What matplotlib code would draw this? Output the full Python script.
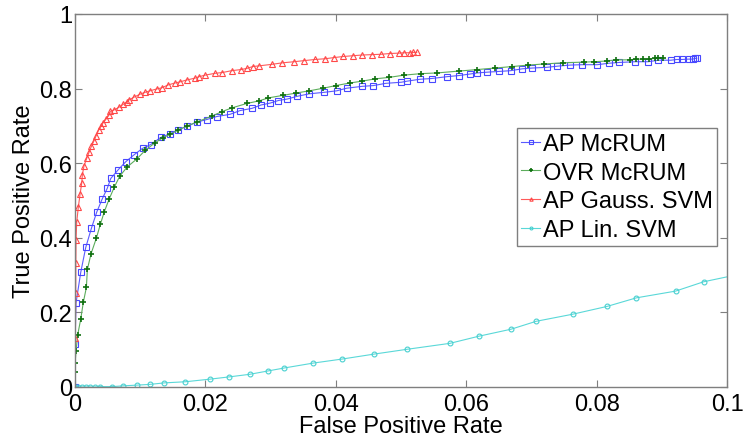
import numpy as np
import matplotlib
matplotlib.use("Agg")
import matplotlib.pyplot as plt

plt.rcParams['font.family'] = ['Liberation Sans', 'DejaVu Sans']

# ROC points (false positive rate, true positive rate)
fpr_ap_mcrum = [0.0, 0.0, 0.00015, 0.00087, 0.00164, 0.0025, 0.00333, 0.00414, 0.00495,
                0.00548, 0.0066, 0.00778, 0.00909, 0.01038, 0.01161, 0.01314, 0.01457,
                0.01584, 0.01722, 0.01866, 0.0202, 0.02173, 0.02377, 0.02531, 0.02715,
                0.02853, 0.02991, 0.03118, 0.03256, 0.034, 0.03594, 0.03824, 0.04014,
                0.04167, 0.04406, 0.04575, 0.04765, 0.05005, 0.05097, 0.05291, 0.05471,
                0.0571, 0.0589, 0.06058, 0.0617, 0.06324, 0.06508, 0.06683, 0.0686,
                0.07009, 0.07235, 0.07397, 0.07592, 0.07781, 0.08011, 0.0819, 0.08348,
                0.08589, 0.08793, 0.08946, 0.09137, 0.09229, 0.0931, 0.09413, 0.09474,
                0.09514, 0.09535]
tpr_ap_mcrum = [0.0, 0.115, 0.225, 0.307, 0.374, 0.425, 0.469, 0.503, 0.533,
                0.559, 0.582, 0.604, 0.623, 0.640, 0.650, 0.669, 0.679,
                0.690, 0.699, 0.710, 0.717, 0.725, 0.731, 0.741, 0.747,
                0.756, 0.761, 0.768, 0.772, 0.779, 0.786, 0.790, 0.794,
                0.801, 0.806, 0.808, 0.814, 0.817, 0.820, 0.825, 0.827,
                0.832, 0.835, 0.839, 0.842, 0.844, 0.846, 0.848, 0.853,
                0.855, 0.857, 0.860, 0.863, 0.864, 0.864, 0.868, 0.870,
                0.872, 0.872, 0.876, 0.876, 0.878, 0.878, 0.879, 0.879,
                0.881, 0.881]

fpr_ovr_mcrum = [0.0, 0.0, 0.0, 0.00015, 0.0004, 0.00087, 0.00127, 0.00174, 0.00189,
                 0.00245, 0.00327, 0.00388, 0.00449, 0.00521, 0.00603, 0.00685, 0.008,
                 0.00946, 0.01074, 0.01222, 0.01345, 0.01457, 0.01584, 0.01722, 0.01876,
                 0.02097, 0.0225, 0.02403, 0.02633, 0.02822, 0.02965, 0.03195, 0.0339,
                 0.03594, 0.03808, 0.03998, 0.04218, 0.04406, 0.04601, 0.04816, 0.05046,
                 0.05302, 0.05557, 0.05894, 0.0617, 0.06437, 0.06702, 0.06952, 0.07193,
                 0.0748, 0.07807, 0.07965, 0.08155, 0.08298, 0.08508, 0.086, 0.08707,
                 0.08808, 0.08896, 0.08946, 0.09014]
tpr_ovr_mcrum = [0.0, 0.039, 0.063, 0.096, 0.139, 0.182, 0.227, 0.267, 0.315,
                 0.357, 0.399, 0.436, 0.470, 0.503, 0.536, 0.565, 0.590,
                 0.611, 0.634, 0.654, 0.668, 0.677, 0.689, 0.700, 0.711,
                 0.726, 0.738, 0.748, 0.760, 0.767, 0.775, 0.782, 0.788,
                 0.794, 0.801, 0.808, 0.815, 0.820, 0.826, 0.830, 0.836,
                 0.840, 0.842, 0.847, 0.851, 0.855, 0.859, 0.863, 0.866,
                 0.869, 0.871, 0.872, 0.874, 0.877, 0.877, 0.879, 0.879,
                 0.879, 0.881, 0.881, 0.882]

fpr_gauss_svm = [0.0, 0.00005, 0.0001, 0.00012, 0.00015, 0.00026, 0.00051, 0.00077, 0.00103,
                 0.00112, 0.00138, 0.00179, 0.00215, 0.0025, 0.00291, 0.00322, 0.00363,
                 0.00399, 0.00434, 0.00475, 0.00521, 0.00541, 0.00603, 0.00675, 0.00741,
                 0.00793, 0.00833, 0.00905, 0.00997, 0.01074, 0.0115, 0.01253, 0.0133,
                 0.01431, 0.01534, 0.0161, 0.01713, 0.0184, 0.01906, 0.01994, 0.0215,
                 0.02259, 0.02403, 0.02546, 0.02633, 0.02725, 0.02827, 0.03021, 0.03179,
                 0.03359, 0.03517, 0.03681, 0.03839, 0.03968, 0.04115, 0.04259, 0.04406,
                 0.04555, 0.04698, 0.04831, 0.04965, 0.05046, 0.05138, 0.05189, 0.05241]
tpr_gauss_svm = [0.0, 0.131, 0.252, 0.333, 0.394, 0.443, 0.483, 0.517, 0.547,
                 0.569, 0.593, 0.613, 0.629, 0.645, 0.660, 0.673, 0.689,
                 0.699, 0.709, 0.718, 0.729, 0.739, 0.743, 0.750, 0.758,
                 0.764, 0.770, 0.777, 0.785, 0.790, 0.794, 0.799, 0.802,
                 0.810, 0.815, 0.818, 0.823, 0.828, 0.832, 0.836, 0.841,
                 0.843, 0.848, 0.851, 0.854, 0.859, 0.861, 0.865, 0.869,
                 0.872, 0.875, 0.878, 0.880, 0.883, 0.886, 0.888, 0.890,
                 0.891, 0.892, 0.894, 0.895, 0.896, 0.896, 0.897, 0.897]

fpr_lin_svm = [0.0, 0.0005, 0.001, 0.0017, 0.0023, 0.003, 0.0039, 0.0057, 0.0073,
               0.0095, 0.0115, 0.0137, 0.0169, 0.0207, 0.0236, 0.0268, 0.0296,
               0.0321, 0.0365, 0.041, 0.0458, 0.0509, 0.0575, 0.0619, 0.0669,
               0.0707, 0.0763, 0.0816, 0.0861, 0.0921, 0.0964, 0.104]
tpr_lin_svm = [0.0, 0.0, 0.0, 0.0, 0.0, 0.0, 0.001, 0.001, 0.003,
               0.005, 0.007, 0.011, 0.014, 0.021, 0.027, 0.034, 0.043,
               0.051, 0.064, 0.075, 0.088, 0.101, 0.117, 0.136, 0.155,
               0.176, 0.195, 0.216, 0.239, 0.257, 0.282, 0.310]

x_ticks = [0, 0.02, 0.04, 0.06, 0.08, 0.1]
x_tick_labels = ['0', '0.02', '0.04', '0.06', '0.08', '0.1']
y_ticks = [0, 0.2, 0.4, 0.6, 0.8, 1]
y_tick_labels = ['0', '0.2', '0.4', '0.6', '0.8', '1']

fig = plt.figure(figsize=(7.43, 4.39), dpi=100)
ax = fig.add_axes([0.101, 0.1162, 0.8775, 0.8497])

ax.plot(fpr_ap_mcrum, tpr_ap_mcrum, color='#5a5aff', lw=0.8, marker='s', ms=4,
        mfc='none', mec='#4848ff', mew=0.8, label='AP McRUM')
ax.plot(fpr_ovr_mcrum, tpr_ovr_mcrum, color='#5cad5c', lw=0.8, marker='+', ms=4.5,
        mec='#0f700f', mew=1.2, label='OVR McRUM')
ax.plot(fpr_gauss_svm, tpr_gauss_svm, color='#ff5a5a', lw=0.8, marker='^', ms=4,
        mfc='none', mec='#ff4848', mew=0.8, label='AP Gauss. SVM')
ax.plot(fpr_lin_svm, tpr_lin_svm, color='#5ad8d8', lw=0.8, marker='o', ms=3.5,
        mfc='none', mec='#48d0d0', mew=0.8, label='AP Lin. SVM')

ax.set_xlim(0, 0.1)
ax.set_ylim(0, 1)
ax.set_xticks(x_ticks)
ax.set_xticklabels(x_tick_labels)
ax.set_yticks(y_ticks)
ax.set_yticklabels(y_tick_labels)

gray = '#7f7f7f'
for s in ax.spines.values():
    s.set_color(gray)
    s.set_linewidth(1.0)
ax.tick_params(direction='in', length=5, width=0.8, color=gray, labelsize=17,
               top=True, right=True, labelcolor='black')
ax.tick_params(axis='x', pad=4)
ax.tick_params(axis='y', pad=2)

ax.set_xlabel('False Positive Rate', fontsize=17, labelpad=0)
ax.set_ylabel('True Positive Rate', fontsize=17, labelpad=3)

leg = ax.legend(loc='upper right', bbox_to_anchor=(0.985, 0.6936), borderaxespad=0,
                fontsize=17, handlelength=0.8, handletextpad=0.1, labelspacing=0.28,
                borderpad=0.2, fancybox=False, framealpha=1, markerscale=0.6)
leg.get_frame().set_edgecolor(gray)
leg.get_frame().set_linewidth(1.0)

fig.savefig('out.png', dpi=100)
